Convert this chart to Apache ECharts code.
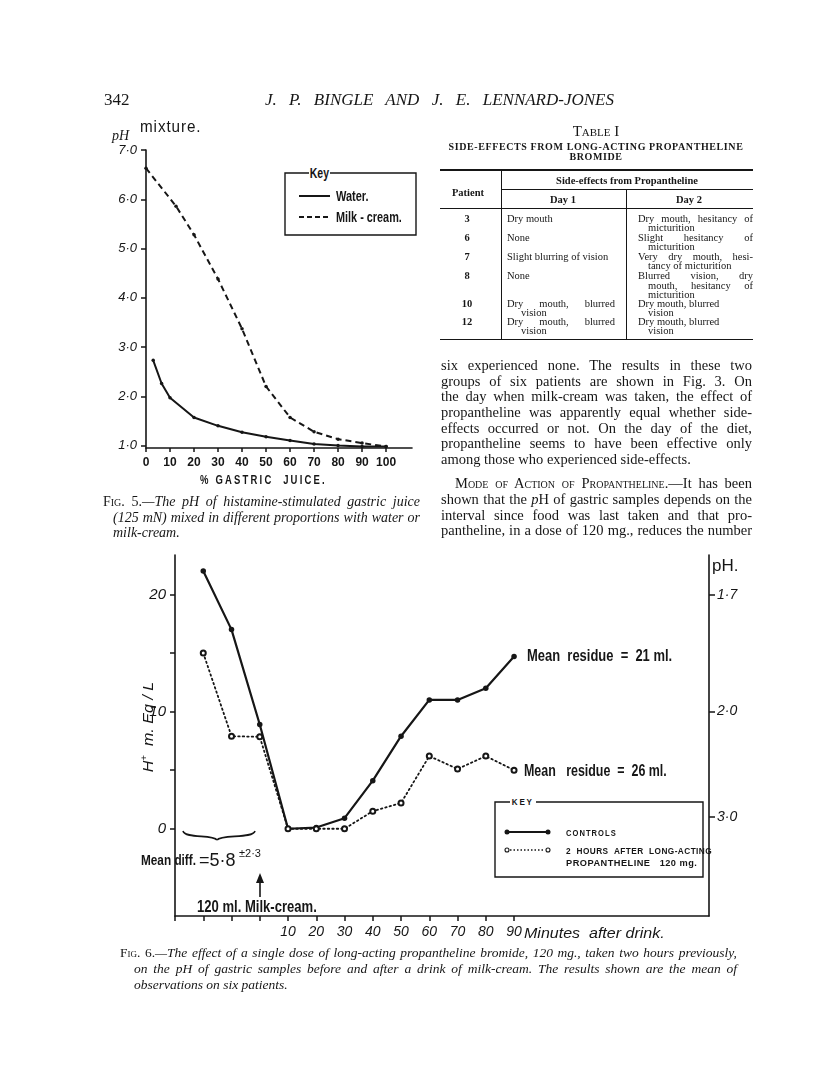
<!DOCTYPE html>
<html>
<head>
<meta charset="utf-8">
<script src="https://cdn.jsdelivr.net/npm/echarts@6/dist/echarts.min.js"></script>
<style>
html, body { margin: 0; padding: 0; background: #fff; }
#page { position: relative; width: 816px; height: 1075px; overflow: hidden; }
#chart { position: absolute; left: 0; top: 0; width: 816px; height: 1075px; }
.t { position: absolute; white-space: nowrap; color: #161616; font-family: "Liberation Serif", serif; }
</style>
</head>
<body>
<div id="page"><div id="chart"></div></div>
<script>
// ---- Fig. 5: pH of gastric juice mixed with water / milk-cream ----
var pctTicks = [0, 10, 20, 30, 40, 50, 60, 70, 80, 90, 100];
var phTicks = [1, 2, 3, 4, 5, 6, 7];
var waterPct = [3, 6.5, 10, 20, 30, 40, 50, 60, 70, 80, 90, 100];
var waterPH = [2.73, 2.26, 1.97, 1.57, 1.40, 1.27, 1.18, 1.10, 1.03, 1.00, 0.98, 0.98];
var milkPct = [0, 12.5, 20, 30, 40, 50, 60, 70, 80, 90, 100];
var milkPH = [6.63, 5.86, 5.28, 4.38, 3.37, 2.20, 1.57, 1.28, 1.13, 1.05, 0.98];

// ---- Fig. 6: H+ (mEq/L) before and after milk-cream ----
var minutes = [-20, -10, 0, 10, 20, 30, 40, 50, 60, 70, 80, 90];
var controls = [22, 17, 8.9, 0, 0.1, 0.9, 4.1, 7.9, 11, 11, 12, 14.7];
var treated = [15, 7.9, 7.85, 0, 0, 0, 1.5, 2.2, 6.2, 5.1, 6.2, 5];
var minuteTicks = [-30, -20, -10, 0, 10, 20, 30, 40, 50, 60, 70, 80, 90];
var minuteLabels = [10, 20, 30, 40, 50, 60, 70, 80, 90];
var hTicks = [0, 5, 10, 15, 20];
var hLabels = [0, 10, 20];
var phRight = [1.7, 2.0, 3.0];

// ---- Table I ----
var patients = ['3', '6', '7', '8', '10', '12'];
var day1Notes = [['Dry mouth'], ['None'], ['Slight blurring of vision'], ['None'],
  ['Dry mouth, blurred', 'vision'], ['Dry mouth, blurred', 'vision']];
var day2Notes = [['Dry mouth, hesitancy of', 'micturition'], ['Slight hesitancy of', 'micturition'],
  ['Very dry mouth, hesi-', 'tancy of micturition'], ['Blurred vision, dry', 'mouth, hesitancy of', 'micturition'],
  ['Dry mouth, blurred', 'vision'], ['Dry mouth, blurred', 'vision']];
var day2Justify = [true, true, true, true, false, false];
var rowY = [217.7, 236.7, 255.7, 275, 302.7, 320.7];

var bodyLines = [
  'six experienced none.  The results in these two',
  'groups of six patients are shown in Fig. 3.  On',
  'the day when milk-cream was taken, the effect of',
  'propantheline was apparently equal whether side-',
  'effects occurred or not.  On the day of the diet,',
  'propantheline seems to have been effective only',
  'among those who experienced side-effects.'
];
var bodyLines2 = [
  '<span style="font-variant:small-caps">Mode of Action of Propantheline.</span>\u2014It has been',
  'shown that the <i>p</i>H of gastric samples depends on the',
  'interval since food was last taken and that pro-',
  'pantheline, in a dose of 120 mg., reduces the number'
];

var ink = '#161616';
var sans = '"Liberation Sans", "DejaVu Sans", sans-serif';

function pairs(xs, ys) {
  return xs.map(function (x, i) { return [x, ys[i]]; });
}
function dotted(v) {
  return v.toFixed(1).replace('.', '\u00b7');
}
var hRight = phRight.map(function (p) { return 1000 * Math.pow(10, -p); });

var chart = echarts.init(document.getElementById('chart'));

var axisLine = { show: true, onZero: false, lineStyle: { color: ink, width: 1.6 } };
var tickStyle = { color: ink, width: 1.5 };

var option = {
  animation: false,
  grid: [
    { left: 146, top: 150, width: 266, height: 298 },
    { left: 175, top: 555, width: 534, height: 361 }
  ],
  xAxis: [
    {
      gridIndex: 0, type: 'value', min: 0, max: 110.8,
      splitLine: { show: false }, axisLine: axisLine,
      axisTick: { show: true, customValues: pctTicks, length: 4, lineStyle: tickStyle },
      axisLabel: { customValues: pctTicks, color: ink, fontFamily: sans, fontWeight: 'bold', fontSize: 12, margin: 9 }
    },
    {
      gridIndex: 1, type: 'value', min: -30, max: 159,
      splitLine: { show: false }, axisLine: axisLine,
      axisTick: { show: true, customValues: minuteTicks, length: 5, lineStyle: tickStyle },
      axisLabel: { customValues: minuteLabels, color: ink, fontFamily: sans, fontStyle: 'italic', fontSize: 14, margin: 9 }
    }
  ],
  yAxis: [
    {
      gridIndex: 0, type: 'value', min: 0.95, max: 7,
      splitLine: { show: false }, axisLine: axisLine,
      axisTick: { show: true, customValues: phTicks, length: 5, lineStyle: tickStyle },
      axisLabel: { customValues: phTicks, formatter: dotted, color: ink, fontFamily: sans, fontStyle: 'italic', fontSize: 13, margin: 9 }
    },
    {
      gridIndex: 1, type: 'value', min: -7.45, max: 23.37,
      splitLine: { show: false }, axisLine: axisLine,
      axisTick: { show: true, customValues: hTicks, length: 5, lineStyle: tickStyle },
      axisLabel: { customValues: hLabels, color: ink, fontFamily: sans, fontStyle: 'italic', fontSize: 15, margin: 9 }
    },
    {
      gridIndex: 1, type: 'value', position: 'right', min: -7.45, max: 23.37,
      splitLine: { show: false }, axisLine: axisLine,
      axisTick: { show: true, customValues: hRight, length: 6, lineStyle: tickStyle },
      axisLabel: {
        customValues: hRight, color: ink, fontFamily: sans, fontStyle: 'italic', fontSize: 14, margin: 8,
        formatter: function (v) {
          for (var i = 0; i < hRight.length; i++) {
            if (Math.abs(hRight[i] - v) < 1e-3) return dotted(phRight[i]);
          }
          return '';
        }
      }
    }
  ],
  series: [
    {
      name: 'Water', type: 'line', xAxisIndex: 0, yAxisIndex: 0, data: pairs(waterPct, waterPH),
      symbol: 'circle', symbolSize: 3.5, clip: false,
      itemStyle: { color: ink }, lineStyle: { color: ink, width: 2 }
    },
    {
      name: 'Milk-cream', type: 'line', xAxisIndex: 0, yAxisIndex: 0, data: pairs(milkPct, milkPH),
      symbol: 'circle', symbolSize: 3.5, clip: false,
      itemStyle: { color: ink }, lineStyle: { color: ink, width: 2, type: [6, 4] }
    },
    {
      name: 'Controls', type: 'line', xAxisIndex: 1, yAxisIndex: 1, data: pairs(minutes, controls),
      symbol: 'circle', symbolSize: 5.5,
      itemStyle: { color: ink }, lineStyle: { color: ink, width: 2.2 }
    },
    {
      name: 'Propantheline', type: 'line', xAxisIndex: 1, yAxisIndex: 1, data: pairs(minutes, treated),
      symbol: 'emptyCircle', symbolSize: 5,
      itemStyle: { color: ink, borderWidth: 1.2 }, lineStyle: { color: ink, width: 1.8, type: [1.5, 3], cap: 'round' }
    }
  ],
  graphic: [
    // fig 5 key
    { type: 'rect', silent: true, shape: { x: 285, y: 173, width: 131, height: 62 }, style: { fill: 'none', stroke: ink, lineWidth: 1.4 } },
    { type: 'line', silent: true, shape: { x1: 299, y1: 196, x2: 330, y2: 196 }, style: { stroke: ink, lineWidth: 2 } },
    { type: 'line', silent: true, shape: { x1: 299, y1: 217, x2: 329, y2: 217 }, style: { stroke: ink, lineWidth: 2, lineDash: [5, 3] } },
    // fig 6 key
    { type: 'rect', silent: true, shape: { x: 495, y: 802, width: 208, height: 75 }, style: { fill: 'none', stroke: ink, lineWidth: 1.4 } },
    { type: 'line', silent: true, shape: { x1: 507, y1: 832, x2: 548, y2: 832 }, style: { stroke: ink, lineWidth: 2 } },
    { type: 'circle', silent: true, shape: { cx: 507, cy: 832, r: 2.5 }, style: { fill: ink } },
    { type: 'circle', silent: true, shape: { cx: 548, cy: 832, r: 2.5 }, style: { fill: ink } },
    { type: 'line', silent: true, shape: { x1: 510, y1: 850, x2: 545, y2: 850 }, style: { stroke: ink, lineWidth: 1.5, lineDash: [1.5, 2] } },
    { type: 'circle', silent: true, shape: { cx: 507, cy: 850, r: 2 }, style: { fill: '#fff', stroke: ink, lineWidth: 1.1 } },
    { type: 'circle', silent: true, shape: { cx: 548, cy: 850, r: 2 }, style: { fill: '#fff', stroke: ink, lineWidth: 1.1 } },
    // brace under the pre-drink samples
    { type: 'bezierCurve', silent: true, shape: { x1: 183, y1: 831, cpx1: 185, cpy1: 839, cpx2: 213, cpy2: 834, x2: 217, y2: 840 }, style: { stroke: ink, lineWidth: 1.6, fill: 'none' } },
    { type: 'bezierCurve', silent: true, shape: { x1: 217, y1: 840, cpx1: 221, cpy1: 834, cpx2: 253, cpy2: 839, x2: 255, y2: 831 }, style: { stroke: ink, lineWidth: 1.6, fill: 'none' } },
    // arrow at the drink
    { type: 'line', silent: true, shape: { x1: 260, y1: 897, x2: 260, y2: 878 }, style: { stroke: ink, lineWidth: 1.6 } },
    { type: 'polygon', silent: true, shape: { points: [[256, 883], [260, 873], [264, 883]] }, style: { fill: ink } }
  ]
};
chart.setOption(option);

// ---- page text ----
var page = document.getElementById('page');
// o: {c: centre on x, w: squeeze/stretch to width w, r: rotate -90}
function put(x, y, html, css, o) {
  o = o || {};
  var d = document.createElement('div');
  d.className = 't';
  d.style.cssText = 'left:' + x + 'px;top:' + y + 'px;' + (css || '');
  d.innerHTML = html;
  page.appendChild(d);
  var tf = (o.c || o.r) ? 'translate(-50%,-50%)' : 'translateY(-50%)';
  if (o.r) tf += ' rotate(-90deg)';
  if (o.w) {
    tf += ' scaleX(' + (o.w / d.offsetWidth) + ')';
    d.style.transformOrigin = (o.c || o.r) ? 'center center' : 'left center';
  }
  d.style.transform = tf;
  return d;
}
// stretch (or squeeze) a single line to width w through word spacing
function just(d, w) {
  var gaps = (d.textContent.match(/ +/g) || []).length;
  var nat = d.getBoundingClientRect().width;
  if (gaps) d.style.wordSpacing = ((w - nat) / gaps) + 'px';
  else if (nat > w) d.style.letterSpacing = ((w - nat) / d.textContent.length) + 'px';
}
function fit(d, w) {
  if (d.getBoundingClientRect().width > w) just(d, w);
}

// header
put(104, 100, '342', 'font-size:17px');
just(put(265, 100, 'J. P. BINGLE AND J. E. LENNARD-JONES', 'font-size:17px;font-style:italic'), 349);

// table
put(596, 131, 'Table I', 'font-size:15px;font-variant:small-caps', { c: 1 });
put(596, 146, 'SIDE-EFFECTS FROM LONG-ACTING PROPANTHELINE', 'font-size:10px;font-weight:bold;letter-spacing:0.6px', { c: 1 });
put(596, 155.5, 'BROMIDE', 'font-size:10px;font-weight:bold;letter-spacing:0.6px', { c: 1 });
function rule(x, y, w, h) {
  var d = document.createElement('div');
  d.style.cssText = 'position:absolute;background:#161616;left:' + x + 'px;top:' + y + 'px;width:' + w + 'px;height:' + h + 'px';
  page.appendChild(d);
}
rule(440, 169, 313, 2);
rule(501, 171, 1, 169);
rule(501, 189, 252, 1);
rule(626, 190, 1, 150);
rule(440, 207.5, 313, 1.5);
rule(440, 338.5, 313, 1.5);
var cell = 'font-size:10.5px;';
put(468, 191.5, 'Patient', cell + 'font-weight:bold', { c: 1 });
put(627, 180, 'Side-effects from Propantheline', cell + 'font-weight:bold', { c: 1 });
put(563, 198.5, 'Day 1', cell + 'font-weight:bold', { c: 1 });
put(689, 198.5, 'Day 2', cell + 'font-weight:bold', { c: 1 });
patients.forEach(function (p, i) {
  var y = rowY[i];
  put(467, y, p, cell + 'font-weight:bold', { c: 1 });
  day1Notes[i].forEach(function (s, k) {
    var last = k === day1Notes[i].length - 1;
    var d = put(k ? 521 : 507, y + 9.5 * k, s, cell);
    if (!last) just(d, 108); else fit(d, 108);
  });
  day2Notes[i].forEach(function (s, k) {
    var last = k === day2Notes[i].length - 1;
    var x = k ? 648 : 638;
    var d = put(x, y + 9.5 * k, s, cell);
    if (!last && day2Justify[i]) just(d, 753 - x); else fit(d, 753 - x);
  });
});

// body text
var bodyY = [365, 380.7, 396.3, 412, 427.7, 443.3, 459];
bodyLines.forEach(function (s, i) {
  var d = put(441, bodyY[i], s, 'font-size:14.5px');
  if (i < bodyLines.length - 1) just(d, 311); else fit(d, 311);
});
var bodyY2 = [483.3, 499, 514.7, 530.3];
bodyLines2.forEach(function (s, i) {
  var x = i ? 441 : 455;
  just(put(x, bodyY2[i], s, 'font-size:14.5px'), 752 - x);
});

// fig 5 lettering
var bold = 'font-family:' + sans + ';font-weight:bold;';
put(140, 127, 'mixture.', 'font-family:' + sans + ';font-size:17px;letter-spacing:1px', { w: 61 });
put(112, 136, 'pH', 'font-size:14px;font-style:italic');
put(309, 173, 'Key', bold + 'font-size:14px;background:#fff;padding:0 1px', { w: 21 });
put(336, 196, 'Water.', bold + 'font-size:14px', { w: 33 });
put(336, 217, 'Milk - cream.', bold + 'font-size:14px', { w: 66 });
put(200, 479, '% GASTRIC &nbsp;JUICE.', bold + 'font-size:13px;letter-spacing:3px', { w: 127 });
var cap5 = 'font-size:14px;font-style:italic';
just(put(103, 502, '<span style="font-style:normal;font-variant:small-caps">Fig. 5.</span>\u2014The pH of histamine-stimulated gastric juice', cap5), 317);
just(put(113, 517.5, '(125 mN) mixed in different proportions with water or', cap5), 307);
put(113, 533, 'milk-cream.', cap5);

// fig 6 lettering
put(147, 727, 'H<sup style="font-size:9px">+</sup> &nbsp;m. Eq / L', 'font-family:' + sans + ';font-style:italic;font-size:15px', { r: 1, w: 90 });
put(712, 566, 'pH.', 'font-family:' + sans + ';font-size:17px', { w: 26 });
put(527, 656, 'Mean &nbsp;residue &nbsp;= &nbsp;21 ml.', bold + 'font-size:16px', { w: 145 });
put(524, 771, 'Mean &nbsp;&nbsp;residue &nbsp;= &nbsp;26 ml.', bold + 'font-size:16px', { w: 143 });
put(510, 802, 'KEY', bold + 'font-size:9px;letter-spacing:2px;background:#fff;padding:0 2px', { w: 26 });
put(566, 832, 'CONTROLS', bold + 'font-size:9.5px;letter-spacing:1.3px', { w: 51 });
put(566, 850, '2 &nbsp;HOURS &nbsp;AFTER &nbsp;LONG-ACTING', bold + 'font-size:9.5px;letter-spacing:0.5px', { w: 146 });
put(566, 862, 'PROPANTHELINE &nbsp; 120 mg.', bold + 'font-size:9.5px;letter-spacing:0.5px', { w: 131 });
put(141, 859, 'Mean diff.', bold + 'font-size:15px', { w: 55 });
put(199, 860, '=5\u00b78', 'font-family:' + sans + ';font-size:18px', { w: 37 });
put(239, 853, '\u00b12\u00b73', 'font-family:' + sans + ';font-size:10px', { w: 22 });
put(197, 907, '120 ml. Milk-cream.', bold + 'font-size:16px', { w: 120 });
put(524, 932, 'Minutes &nbsp;after drink.', 'font-family:' + sans + ';font-style:italic;font-size:15px', { w: 141 });
var cap6 = 'font-size:13.5px;font-style:italic';
just(put(120, 953, '<span style="font-style:normal;font-variant:small-caps">Fig. 6.</span>\u2014The effect of a single dose of long-acting propantheline bromide, 120 mg., taken two hours previously,', cap6), 617);
just(put(134, 969, 'on the pH of gastric samples before and after a drink of milk-cream.  The results shown are the mean of', cap6), 603);
put(134, 985, 'observations on six patients.', cap6);
</script>
</body>
</html>
